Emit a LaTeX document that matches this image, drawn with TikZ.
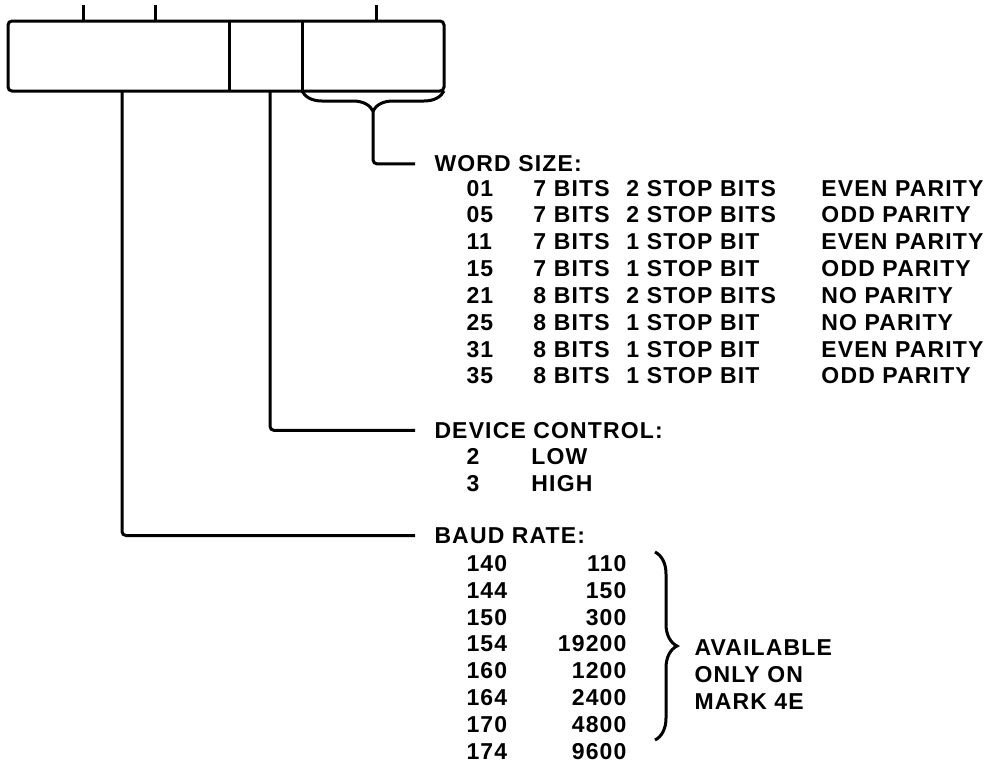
\documentclass[tikz,border=0pt]{standalone}
\usepackage{fontspec}
\setmainfont{Liberation Sans}[LetterSpace=5]
\usepackage{tikz}
\usetikzlibrary{decorations.pathreplacing}
\newcommand{\wordrow}[4]{\makebox[33.5pt][l]{#1}\makebox[46.5pt][l]{#2}\makebox[97.5pt][l]{#3}#4}
\newcommand{\ctlrow}[2]{\makebox[32.5pt][l]{#1}#2}
\newcommand{\baudrow}[2]{\makebox[40pt][l]{#1}\makebox[40pt][r]{#2}}

\begin{document}
\begin{tikzpicture}[x=0.5pt, y=-0.5pt, line width=1.5pt,
  txt/.style={anchor=base west, inner sep=0pt, font=\fontsize{11.5}{13}\selectfont\bfseries},
  lead/.style={rounded corners=2pt},
  curly/.style={decorate, decoration={brace, amplitude=#1}}
]
  \useasboundingbox (0,0) rectangle (995,766);

  % register layout
  \draw[rounded corners=2pt] (8,21) rectangle (444,91);
  \draw (229,21) -- (229,91) (302,21) -- (302,91);
  \draw (83,5) -- (83,21) (155,5) -- (155,21) (376,5) -- (376,21);
  \coordinate (baudfield) at (122,91);
  \coordinate (ctlfield) at (270,91);
  \draw[curly=10pt, decoration={mirror}] (302,91) -- (444,91);
  \coordinate (wordtip) at (373,111);

  % word size
  \node[txt] (wordhead) at (433,171.8) {WORD SIZE:};
  \node[txt] (w01) at (465,196.0) {\wordrow{01}{7 BITS}{2 STOP BITS}{EVEN PARITY}};
  \node[txt] (w05) at (465,222.8) {\wordrow{05}{7 BITS}{2 STOP BITS}{ODD PARITY}};
  \node[txt] (w11) at (465,249.6) {\wordrow{11}{7 BITS}{1 STOP BIT}{EVEN PARITY}};
  \node[txt] (w15) at (465,276.5) {\wordrow{15}{7 BITS}{1 STOP BIT}{ODD PARITY}};
  \node[txt] (w21) at (465,303.3) {\wordrow{21}{8 BITS}{2 STOP BITS}{NO PARITY}};
  \node[txt] (w25) at (465,330.1) {\wordrow{25}{8 BITS}{1 STOP BIT}{NO PARITY}};
  \node[txt] (w31) at (465,357.0) {\wordrow{31}{8 BITS}{1 STOP BIT}{EVEN PARITY}};
  \node[txt] (w35) at (465,383.8) {\wordrow{35}{8 BITS}{1 STOP BIT}{ODD PARITY}};

  % device control
  \node[txt] (ctlhead) at (433,438.3) {DEVICE CONTROL:};
  \node[txt] (c2) at (465,464.3) {\ctlrow{2}{LOW}};
  \node[txt] (c3) at (465,491.3) {\ctlrow{3}{HIGH}};

  % baud rate
  \node[txt] (baudhead) at (433,543.3) {BAUD RATE:};
  \node[txt] (b140) at (465,571.5) {\baudrow{140}{110}};
  \node[txt] (b144) at (465,598.3) {\baudrow{144}{150}};
  \node[txt] (b150) at (465,625.1) {\baudrow{150}{300}};
  \node[txt] (b154) at (465,651.9) {\baudrow{154}{19200}};
  \node[txt] (b160) at (465,678.7) {\baudrow{160}{1200}};
  \node[txt] (b164) at (465,705.5) {\baudrow{164}{2400}};
  \node[txt] (b170) at (465,732.3) {\baudrow{170}{4800}};
  \node[txt] (b174) at (465,759.1) {\baudrow{174}{9600}};
  \draw[curly=11pt] (655,552) -- (655,740);
  \node[txt] (avail) at (693,655) {AVAILABLE};
  \node[txt] (only) at (693,682) {ONLY ON};
  \node[txt] (mark) at (693,709) {MARK 4E};

  % leader lines
  \draw[lead] (wordtip) |- ([xshift=-9pt]wordhead.west);
  \draw[lead] (ctlfield) |- ([xshift=-9pt]ctlhead.west);
  \draw[lead] (baudfield) |- ([xshift=-9pt]baudhead.west);
\end{tikzpicture}
\end{document}
